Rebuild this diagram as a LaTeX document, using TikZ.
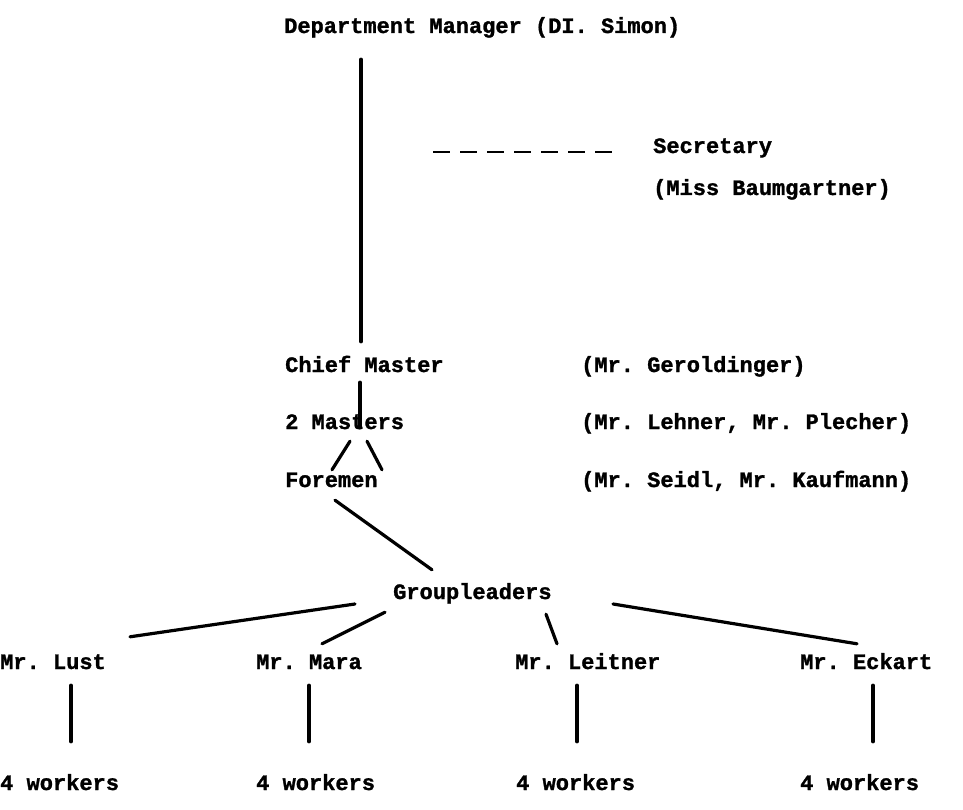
\documentclass[tikz,border=0pt]{standalone}
\usepackage{fontspec}
\newfontfamily\twfont[BoldFeatures={FakeBold=1.3}]{Liberation Mono}
\usetikzlibrary{calc}
\frenchspacing
\begin{document}
\begin{tikzpicture}[x=1pt,y=-1pt,
  lbl/.style={anchor=west,inner sep=0pt,font=\twfont\bfseries\fontsize{22}{26}\selectfont\frenchspacing,text height=14pt,text depth=4pt},
  ln/.style={line width=3.2pt,line cap=round},
  dsh/.style={line width=2.6pt,dash pattern=on 17pt off 10pt}]
\useasboundingbox (0,0) rectangle (963,810);
% text nodes
\node[lbl] (dm) at (284,28) {Department Manager (DI. Simon)};
\node[lbl] (sec) at (653,148) {Secretary};
\node[lbl] (secn) at (653,190) {(Miss Baumgartner)};
\node[lbl] (chief) at (285,367) {Chief Master};
\node[lbl] (chiefn) at (581,367) {(Mr. Geroldinger)};
\node[lbl] (masters) at (285,424) {2 Masters};
\node[lbl] (mastersn) at (581,424) {(Mr. Lehner, Mr. Plecher)};
\node[lbl] (foremen) at (285,482) {Foremen};
\node[lbl] (foremenn) at (581,482) {(Mr. Seidl, Mr. Kaufmann)};
\node[lbl] (gl) at (393,594) {Groupleaders};
\node[lbl] (lust) at (0,664) {Mr. Lust};
\node[lbl] (mara) at (256,664) {Mr. Mara};
\node[lbl] (leitner) at (515,664) {Mr. Leitner};
\node[lbl] (eckart) at (800,664) {Mr. Eckart};
\node[lbl] (w1) at (0,785) {4 workers};
\node[lbl] (w2) at (256,785) {4 workers};
\node[lbl] (w3) at (516,785) {4 workers};
\node[lbl] (w4) at (800,785) {4 workers};
% connectors
\draw[ln] ($(dm.south west)+(77,22)$) -- ($(chief.north west)+(76,-16)$);
\draw[dsh] ($(sec.west)+(-220,4)$) -- ($(sec.west)+(-41,4)$);
\draw[ln] ($(chief.south west)+(75,6)$) -- ($(masters.north west)+(75,13)$);
\draw[ln] ($(masters.south west)+(65,8)$) -- ($(foremen.north west)+(47,-3)$);
\draw[ln] ($(masters.south west)+(82,8)$) -- ($(foremen.north west)+(97,-3)$);
\draw[ln] ($(foremen.south west)+(50,9)$) -- ($(gl.north west)+(39,-15)$);
\draw[ln] ($(gl.west)+(-38,10)$) -- ($(lust.north west)+(130,-18)$);
\draw[ln] ($(gl.south west)+(-8,9)$) -- ($(mara.north west)+(66,-11)$);
\draw[ln] ($(gl.south west)+(153,11)$) -- ($(leitner.north west)+(42,-11)$);
\draw[ln] ($(gl.west)+(220,10)$) -- ($(eckart.north west)+(57,-11)$);
\draw[ln] ($(lust.south west)+(71,12)$) -- ($(w1.north west)+(71,-34)$);
\draw[ln] ($(mara.south west)+(53,12)$) -- ($(w2.north west)+(53,-34)$);
\draw[ln] ($(leitner.south west)+(62,12)$) -- ($(w3.north west)+(61,-34)$);
\draw[ln] ($(eckart.south west)+(73,12)$) -- ($(w4.north west)+(73,-34)$);
\end{tikzpicture}
\end{document}
